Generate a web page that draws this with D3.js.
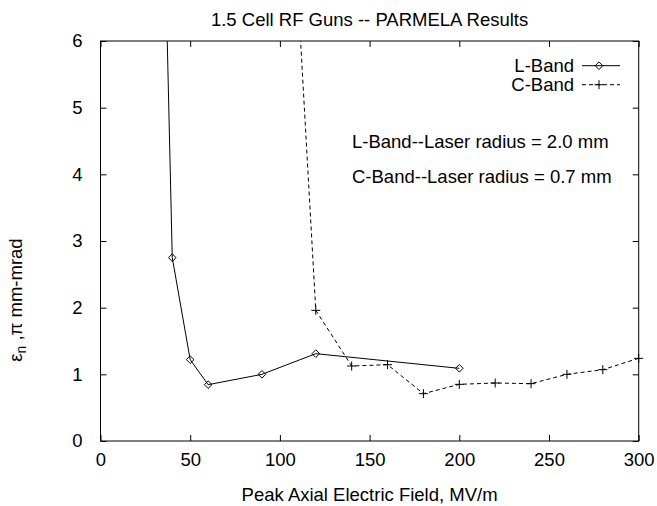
<!DOCTYPE html>
<html>
<head>
<meta charset="utf-8">
<script src="https://cdn.jsdelivr.net/npm/d3@7"></script>
<style>
  html, body { margin: 0; padding: 0; background: #fff; overflow: hidden; }
  svg { display: block; }
  text { font-family: "Liberation Sans", Arial, sans-serif; fill: #000; }
</style>
</head>
<body>
<div id="chart"></div>
<script>
// values
var lbandField = [30, 40, 50, 60, 90, 120, 200];
var lbandEmit  = [14.4, 2.75, 1.22, 0.845, 1.0, 1.31, 1.09];
var cbandField = [100, 120, 140, 160, 180, 200, 220, 240, 260, 280, 300];
var cbandEmit  = [11.5, 1.96, 1.125, 1.145, 0.71, 0.85, 0.87, 0.86, 1.0, 1.07, 1.24];
var xTicks = [0, 50, 100, 150, 200, 250, 300];
var yTicks = [0, 1, 2, 3, 4, 5, 6];

var width = 657, height = 506;
var margin = {top: 41, bottom: 65, left: 100.5, right: 18.3};
var innerWidth = width - margin.left - margin.right;
var innerHeight = height - margin.top - margin.bottom;
var fs = 18.5;

var svg = d3.select("#chart").append("svg")
  .attr("width", width)
  .attr("height", height);

var x = d3.scaleLinear().domain([0, 300]).range([0, innerWidth]);
var y = d3.scaleLinear().domain([0, 6]).range([innerHeight, 0]);

var g = svg.append("g")
  .attr("transform", "translate(" + margin.left + "," + margin.top + ")");

g.append("clipPath").attr("id", "clip")
  .append("rect").attr("width", innerWidth).attr("height", innerHeight);

// axes: ticks inward, mirrored on all sides
var tl = 6;
var xb = g.append("g").attr("transform", "translate(0," + innerHeight + ")")
  .call(d3.axisBottom(x).tickValues(xTicks).tickSize(-tl).tickPadding(tl + 6).tickFormat(d3.format("d")));
var xt = g.append("g")
  .call(d3.axisTop(x).tickValues(xTicks).tickSize(-tl).tickFormat(""));
var yl = g.append("g")
  .call(d3.axisLeft(y).tickValues(yTicks).tickSize(-tl).tickPadding(tl + 12).tickFormat(d3.format("d")));
var yr = g.append("g").attr("transform", "translate(" + innerWidth + ",0)")
  .call(d3.axisRight(y).tickValues(yTicks).tickSize(-tl).tickFormat(""));

[xb, xt, yl, yr].forEach(function(a) {
  a.select(".domain").remove();
  a.selectAll("line").attr("stroke", "#000");
  a.selectAll("text").attr("font-size", fs).attr("font-family", null);
});

g.append("rect")
  .attr("width", innerWidth).attr("height", innerHeight)
  .attr("fill", "none").attr("stroke", "#000").attr("stroke-width", 1);

var lData = lbandField.map(function(d, i) { return [d, lbandEmit[i]]; });
var cData = cbandField.map(function(d, i) { return [d, cbandEmit[i]]; });

var line = d3.line().x(function(d) { return x(d[0]); }).y(function(d) { return y(d[1]); });

var plot = g.append("g").attr("clip-path", "url(#clip)");
plot.append("path").datum(lData).attr("d", line)
  .attr("fill", "none").attr("stroke", "#000").attr("stroke-width", 1);
plot.append("path").datum(cData).attr("d", line)
  .attr("fill", "none").attr("stroke", "#000").attr("stroke-width", 1)
  .attr("stroke-dasharray", "4,3");

function diamond(sel, cx, cy) {
  var r = 3.8;
  sel.append("path")
    .attr("d", "M" + cx + "," + (cy - r) + "L" + (cx + r) + "," + cy + "L" + cx + "," + (cy + r) + "L" + (cx - r) + "," + cy + "Z")
    .attr("fill", "none").attr("stroke", "#000").attr("stroke-width", 1);
}
function plus(sel, cx, cy) {
  var r = 4.5;
  sel.append("path")
    .attr("d", "M" + (cx - r) + "," + cy + "H" + (cx + r) + "M" + cx + "," + (cy - r) + "V" + (cy + r))
    .attr("fill", "none").attr("stroke", "#000").attr("stroke-width", 1);
}

var marks = g.append("g");
lData.filter(function(d) { return d[1] <= 6; }).forEach(function(d) { diamond(marks, x(d[0]), y(d[1])); });
cData.filter(function(d) { return d[1] <= 6; }).forEach(function(d) { plus(marks, x(d[0]), y(d[1])); });

// legend
var legX = 574 - margin.left;
var legend = [
  {name: "L-Band", dash: null, mark: diamond, y: 71.7 - margin.top},
  {name: "C-Band", dash: "4,3", mark: plus, y: 90.7 - margin.top}
];
legend.forEach(function(d) {
  g.append("text").attr("x", legX).attr("y", d.y)
    .attr("text-anchor", "end").attr("font-size", fs).text(d.name);
  g.append("line").attr("x1", legX + 8).attr("x2", legX + 46)
    .attr("y1", d.y - 6).attr("y2", d.y - 6)
    .attr("stroke", "#000").attr("stroke-dasharray", d.dash);
  d.mark(g, legX + 25, d.y - 6);
});

// annotations
g.append("text").attr("x", 352 - margin.left).attr("y", 148.3 - margin.top)
  .attr("font-size", fs).text("L-Band--Laser radius = 2.0 mm");
g.append("text").attr("x", 352 - margin.left).attr("y", 182.7 - margin.top)
  .attr("font-size", fs).text("C-Band--Laser radius = 0.7 mm");

// title and axis labels
svg.append("text").attr("x", margin.left + innerWidth / 2).attr("y", 26)
  .attr("text-anchor", "middle").attr("font-size", fs)
  .text("1.5 Cell RF Guns -- PARMELA Results");
svg.append("text").attr("x", margin.left + innerWidth / 2).attr("y", 501)
  .attr("text-anchor", "middle").attr("font-size", fs)
  .text("Peak Axial Electric Field, MV/m");

var ylab = svg.append("text")
  .attr("transform", "translate(22,300) rotate(-90)")
  .attr("text-anchor", "middle").attr("font-size", fs);
ylab.append("tspan").text("\u03b5");
ylab.append("tspan").attr("font-size", fs * 0.75).attr("dy", 4).text("n");
ylab.append("tspan").attr("dy", -4).text(" ,\u03c0 mm-mrad");
</script>
</body>
</html>
